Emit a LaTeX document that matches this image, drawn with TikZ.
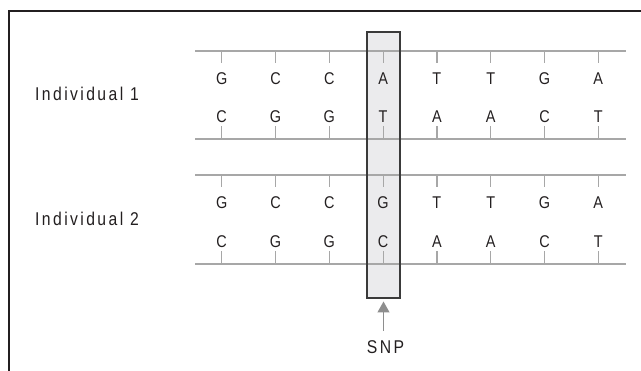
\documentclass[tikz,border=0pt]{standalone}
\usepackage{fontspec}
\setmainfont{Liberation Sans}[FakeStretch=0.85, LetterSpace=13]
\newfontfamily\basefont{Liberation Sans}[FakeStretch=0.85]
\usetikzlibrary{arrows.meta}
\definecolor{ink}{HTML}{231F20}
\definecolor{strand}{HTML}{A7A7A7}
\definecolor{snpfill}{HTML}{EBEBED}
\definecolor{snpedge}{HTML}{3A3A3A}
\definecolor{pointer}{HTML}{8E8E8E}
\tikzset{
  base/.style={inner sep=0pt, text=ink, font=\basefont\fontsize{17}{17}\selectfont, anchor=base},
  label/.style={inner sep=0pt, text=ink, font=\fontsize{18.5}{18.5}\selectfont},
  backbone/.style={draw=strand, line width=1.4pt},
  tick/.style={draw=strand, line width=1.2pt},
}
\begin{document}
\begin{tikzpicture}[x=1pt, y=-1pt]
  \useasboundingbox (0,0) rectangle (641,371);
  % frame
  \draw[ink, line width=2.3pt] (9,371) -- (9,11) -- (641,11);

  % highlighted SNP column (fill first, outline later)
  \fill[snpfill] (367,32) rectangle (400,298);

  % one double strand per individual: backbones, ticks and base letters
  \foreach \top/\bot/\upper/\lower/\id in
      {51/139/{G,C,C,A,T,T,G,A}/{C,G,G,T,A,A,C,T}/1,
       175/264/{G,C,C,G,T,T,G,A}/{C,G,G,C,A,A,C,T}/2}{
    \coordinate (s\id tl) at (195,\top);
    \coordinate (s\id tr) at (626,\top);
    \coordinate (s\id bl) at (195,\bot);
    \coordinate (s\id br) at (626,\bot);
    \draw[backbone] (s\id tl) -- (s\id tr);
    \draw[backbone] (s\id bl) -- (s\id br);
    \foreach \b [count=\i] in \upper {
      \pgfmathsetmacro{\cx}{221.7+(\i-1)*53.8}
      \coordinate (t\id-\i) at (\cx,\top);
      \draw[tick] (t\id-\i) -- ++(0,12.5);
      \node[base] (u\id-\i) at (\cx,\top+33.5) {\b};
    }
    \foreach \b [count=\i] in \lower {
      \pgfmathsetmacro{\cx}{221.7+(\i-1)*53.8}
      \coordinate (b\id-\i) at (\cx,\bot);
      \draw[tick] (b\id-\i) -- ++(0,-12.5);
      \node[base] (l\id-\i) at (\cx,\bot-16.5) {\b};
    }
  }

  % SNP outline
  \draw[snpedge, line width=1.4pt] (367,32) rectangle (400,298);

  % individuals
  \node[label, anchor=base west] (ind1) at (35,100.7) {Individual 1};
  \node[label, anchor=base west] (ind2) at (35,225.5) {Individual 2};

  % pointer
  \node[label, anchor=base] (snp) at (385.5,353.5) {SNP};
  \coordinate (tip) at (383.5,301.5);
  \coordinate (tail) at (383.5,331);
  \draw[pointer, line width=1.2pt, -{Triangle[length=11pt, width=12pt]}] (tail) -- (tip);
\end{tikzpicture}
\end{document}
